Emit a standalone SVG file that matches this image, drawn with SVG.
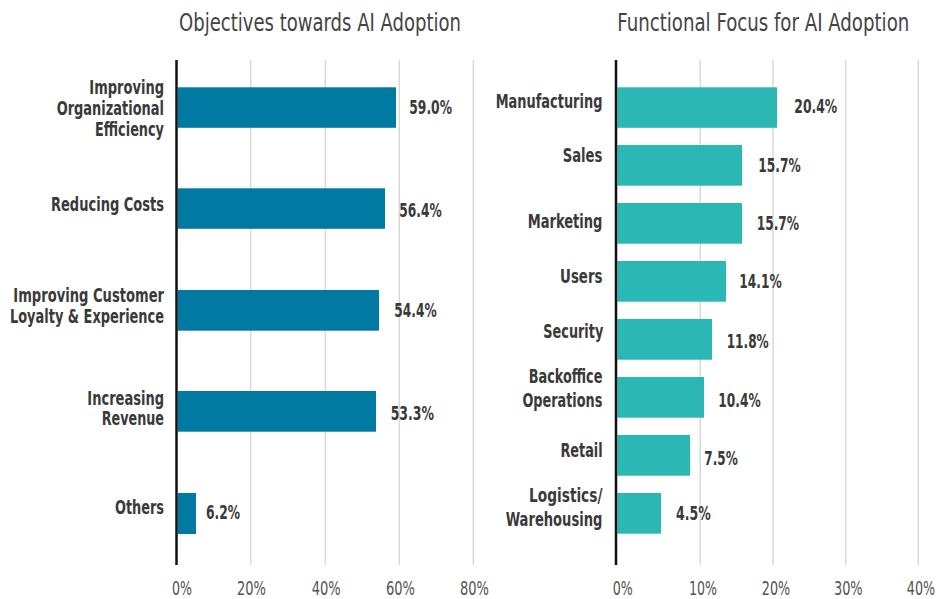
<svg xmlns="http://www.w3.org/2000/svg" width="945" height="599" viewBox="0 0 945 599">
<style>
text{font-family:"Liberation Sans Narrow","DejaVu Sans Condensed","Liberation Sans",sans-serif}
.title{font-size:24px;fill:#444;font-weight:400}
.cat{font-size:19px;fill:#3a3a3a;font-weight:700;text-anchor:end}
.val{font-size:19px;fill:#3a3a3a;font-weight:700}
.tick{font-size:19.5px;fill:#555;font-weight:400;text-anchor:middle}
.grid{stroke:#d9d9d9;stroke-width:1.5}
.axis{stroke:#111;stroke-width:2.5}
.b1{fill:#0079a3}
.b2{fill:#2bb7b3}
</style>
<rect width="945" height="599" fill="#fff"/>

<g id="chart-left">
<text class="title" x="179" y="31" textLength="282" lengthAdjust="spacingAndGlyphs">Objectives towards AI Adoption</text>
<g id="grid-left">
<line class="grid" x1="250.7" y1="60" x2="250.7" y2="565"/>
<line class="grid" x1="325.3" y1="60" x2="325.3" y2="565"/>
<line class="grid" x1="399.3" y1="60" x2="399.3" y2="565"/>
<line class="grid" x1="473.3" y1="60" x2="473.3" y2="565"/>
</g>
<g id="ticks-left">
<text class="tick" x="182" y="595" textLength="20" lengthAdjust="spacingAndGlyphs">0%</text>
<text class="tick" x="251.5" y="595" textLength="29" lengthAdjust="spacingAndGlyphs">20%</text>
<text class="tick" x="326.2" y="595" textLength="29" lengthAdjust="spacingAndGlyphs">40%</text>
<text class="tick" x="400.5" y="595" textLength="29" lengthAdjust="spacingAndGlyphs">60%</text>
<text class="tick" x="474.5" y="595" textLength="29" lengthAdjust="spacingAndGlyphs">80%</text>
</g>
<g id="l-efficiency">
<rect class="b1" x="177.7" y="87.3" width="218.3" height="40.5"/>
<text class="cat" x="164" y="94.3" textLength="74.7" lengthAdjust="spacingAndGlyphs">Improving</text>
<text class="cat" x="164" y="115" textLength="107.3" lengthAdjust="spacingAndGlyphs">Organizational</text>
<text class="cat" x="164" y="136.3" textLength="69" lengthAdjust="spacingAndGlyphs">Efficiency</text>
<text class="val" x="409.3" y="114.3" textLength="42.7" lengthAdjust="spacingAndGlyphs">59.0%</text>
</g>
<g id="l-costs">
<rect class="b1" x="177.7" y="188.3" width="207.3" height="40.5"/>
<text class="cat" x="164" y="210.7" textLength="113" lengthAdjust="spacingAndGlyphs">Reducing Costs</text>
<text class="val" x="399.3" y="216.7" textLength="42.4" lengthAdjust="spacingAndGlyphs">56.4%</text>
</g>
<g id="l-loyalty">
<rect class="b1" x="177.7" y="290" width="201.3" height="40.7"/>
<text class="cat" x="164" y="302.3" textLength="150.7" lengthAdjust="spacingAndGlyphs">Improving Customer</text>
<text class="cat" x="164" y="323.3" textLength="154" lengthAdjust="spacingAndGlyphs">Loyalty &amp; Experience</text>
<text class="val" x="394.3" y="317.3" textLength="42.4" lengthAdjust="spacingAndGlyphs">54.4%</text>
</g>
<g id="l-revenue">
<rect class="b1" x="177.7" y="391" width="198.3" height="40.7"/>
<text class="cat" x="164" y="405" textLength="76.7" lengthAdjust="spacingAndGlyphs">Increasing</text>
<text class="cat" x="164" y="425.3" textLength="62.3" lengthAdjust="spacingAndGlyphs">Revenue</text>
<text class="val" x="390.7" y="420" textLength="43.3" lengthAdjust="spacingAndGlyphs">53.3%</text>
</g>
<g id="l-others">
<rect class="b1" x="177.7" y="493" width="18.3" height="41"/>
<text class="cat" x="164" y="514.3" textLength="49" lengthAdjust="spacingAndGlyphs">Others</text>
<text class="val" x="206" y="519.3" textLength="34" lengthAdjust="spacingAndGlyphs">6.2%</text>
</g>
<line class="axis" x1="176.5" y1="60" x2="176.5" y2="565"/>
</g>

<g id="chart-right">
<text class="title" x="909.3" y="31" text-anchor="end" textLength="292" lengthAdjust="spacingAndGlyphs">Functional Focus for AI Adoption</text>
<g id="grid-right">
<line class="grid" x1="700.3" y1="60" x2="700.3" y2="565"/>
<line class="grid" x1="773" y1="60" x2="773" y2="565"/>
<line class="grid" x1="845.7" y1="60" x2="845.7" y2="565"/>
<line class="grid" x1="918.3" y1="60" x2="918.3" y2="565"/>
</g>
<g id="ticks-right">
<text class="tick" x="622.7" y="595" textLength="20" lengthAdjust="spacingAndGlyphs">0%</text>
<text class="tick" x="703" y="595" textLength="28" lengthAdjust="spacingAndGlyphs">10%</text>
<text class="tick" x="776" y="595" textLength="28.3" lengthAdjust="spacingAndGlyphs">20%</text>
<text class="tick" x="848.3" y="595" textLength="28.7" lengthAdjust="spacingAndGlyphs">30%</text>
<text class="tick" x="921" y="595" textLength="28.3" lengthAdjust="spacingAndGlyphs">40%</text>
</g>
<g id="r-manufacturing">
<rect class="b2" x="617.3" y="87.3" width="159.7" height="40.5"/>
<text class="cat" x="602.4" y="108.3" textLength="106.7" lengthAdjust="spacingAndGlyphs">Manufacturing</text>
<text class="val" x="794.3" y="113.3" textLength="43" lengthAdjust="spacingAndGlyphs">20.4%</text>
</g>
<g id="r-sales">
<rect class="b2" x="617.3" y="145" width="124.7" height="40.7"/>
<text class="cat" x="602.4" y="161.7" textLength="39.7" lengthAdjust="spacingAndGlyphs">Sales</text>
<text class="val" x="758.3" y="172.3" textLength="42.4" lengthAdjust="spacingAndGlyphs">15.7%</text>
</g>
<g id="r-marketing">
<rect class="b2" x="617.3" y="203" width="124.7" height="40.7"/>
<text class="cat" x="602.4" y="227.7" textLength="74.7" lengthAdjust="spacingAndGlyphs">Marketing</text>
<text class="val" x="756.7" y="230" textLength="42.4" lengthAdjust="spacingAndGlyphs">15.7%</text>
</g>
<g id="r-users">
<rect class="b2" x="617.3" y="261" width="108.7" height="40.7"/>
<text class="cat" x="602.4" y="283.3" textLength="42.3" lengthAdjust="spacingAndGlyphs">Users</text>
<text class="val" x="739.3" y="288.3" textLength="42.4" lengthAdjust="spacingAndGlyphs">14.1%</text>
</g>
<g id="r-security">
<rect class="b2" x="617.3" y="319" width="94.7" height="40.7"/>
<text class="cat" x="603.3" y="338.3" textLength="60" lengthAdjust="spacingAndGlyphs">Security</text>
<text class="val" x="726.7" y="348.3" textLength="42" lengthAdjust="spacingAndGlyphs">11.8%</text>
</g>
<g id="r-backoffice">
<rect class="b2" x="617.3" y="377" width="86.7" height="40.7"/>
<text class="cat" x="602.4" y="383.3" textLength="73.7" lengthAdjust="spacingAndGlyphs">Backoffice</text>
<text class="cat" x="602.4" y="407.3" textLength="80" lengthAdjust="spacingAndGlyphs">Operations</text>
<text class="val" x="718.3" y="406.7" textLength="42.4" lengthAdjust="spacingAndGlyphs">10.4%</text>
</g>
<g id="r-retail">
<rect class="b2" x="617.3" y="435" width="72.7" height="40.7"/>
<text class="cat" x="602.7" y="457.3" textLength="42.3" lengthAdjust="spacingAndGlyphs">Retail</text>
<text class="val" x="704.3" y="465" textLength="33.4" lengthAdjust="spacingAndGlyphs">7.5%</text>
</g>
<g id="r-logistics">
<rect class="b2" x="617.3" y="493" width="43.7" height="40.7"/>
<text class="cat" x="602.4" y="501.7" textLength="73.3" lengthAdjust="spacingAndGlyphs">Logistics/</text>
<text class="cat" x="602.4" y="526" textLength="96.7" lengthAdjust="spacingAndGlyphs">Warehousing</text>
<text class="val" x="676" y="520" textLength="34.7" lengthAdjust="spacingAndGlyphs">4.5%</text>
</g>
<line class="axis" x1="616" y1="60" x2="616" y2="565"/>
</g>
</svg>
